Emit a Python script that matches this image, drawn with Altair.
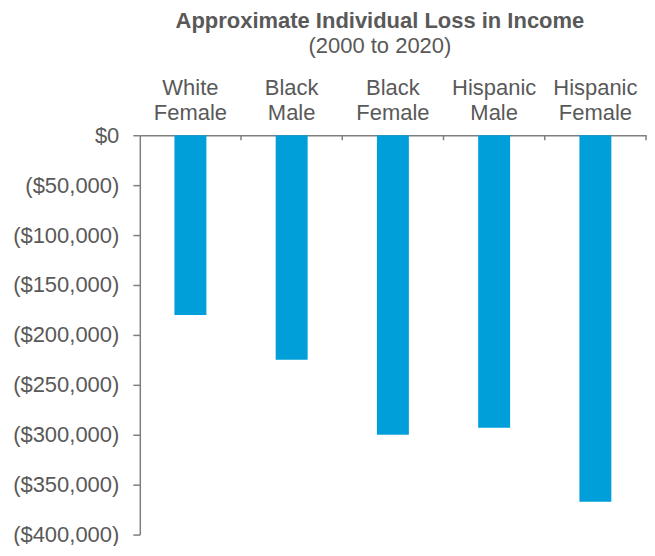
import altair as alt
import pandas as pd

categories = ["White Female", "Black Male", "Black Female", "Hispanic Male", "Hispanic Female"]
losses = [-180000, -225000, -300000, -293000, -367000]
y_ticks = [0, -50000, -100000, -150000, -200000, -250000, -300000, -350000, -400000]

df = pd.DataFrame({"group": categories, "loss": losses})

FONT = "Liberation Sans"
GRAY = "#595959"
LINE = "#7f7f7f"

x_enc = alt.X(
    "group:N",
    sort=categories,
    scale=alt.Scale(paddingInner=0, paddingOuter=0),
    axis=alt.Axis(
        orient="top",
        title=None,
        ticks=False,
        domain=True,
        domainColor=LINE,
        domainWidth=1.5,
        labelAngle=0,
        labelFont=FONT,
        labelFontSize=22,
        labelColor=GRAY,
        labelLineHeight=25,
        labelBaseline="bottom",
        labelPadding=36,
        labelExpr="split(datum.label, ' ')",
    ),
)

y_enc = alt.Y(
    "loss:Q",
    scale=alt.Scale(domain=[-400000, 0], nice=False),
    axis=alt.Axis(
        title=None,
        values=y_ticks,
        grid=False,
        domainColor=LINE,
        domainWidth=1.5,
        tickColor=LINE,
        tickSize=7,
        tickWidth=1.5,
        labelPadding=14,
        labelFont=FONT,
        labelFontSize=22,
        labelColor=GRAY,
        labelExpr="datum.value == 0 ? '$0' : '($' + format(abs(datum.value), ',') + ')'",
    ),
)

bars = alt.Chart(df).mark_bar(size=32, color="#009FDA").encode(x=x_enc, y=y_enc)

ticks = alt.Chart(df).mark_rule(color=LINE, strokeWidth=1.5).encode(
    x=alt.X("group:N", sort=categories, bandPosition=1),
    y=alt.value(0),
    y2=alt.value(5),
)

chart = (
    alt.layer(bars, ticks)
    .properties(
        width=507,
        height=400,
        padding={"left": 4, "top": 2, "right": 0, "bottom": 0},
        title=alt.TitleParams(
            text="Approximate Individual Loss in Income",
            subtitle="(2000 to 2020)",
            font=FONT,
            fontSize=22,
            fontWeight="bold",
            color=GRAY,
            subtitleFont=FONT,
            subtitleFontSize=22,
            subtitleColor=GRAY,
            subtitlePadding=3,
            anchor="middle",
            dx=-13,
            offset=18,
        ),
    )
    .configure_view(strokeWidth=0)
)

chart.save("out.html", embed_options={"renderer": "svg", "actions": False})
